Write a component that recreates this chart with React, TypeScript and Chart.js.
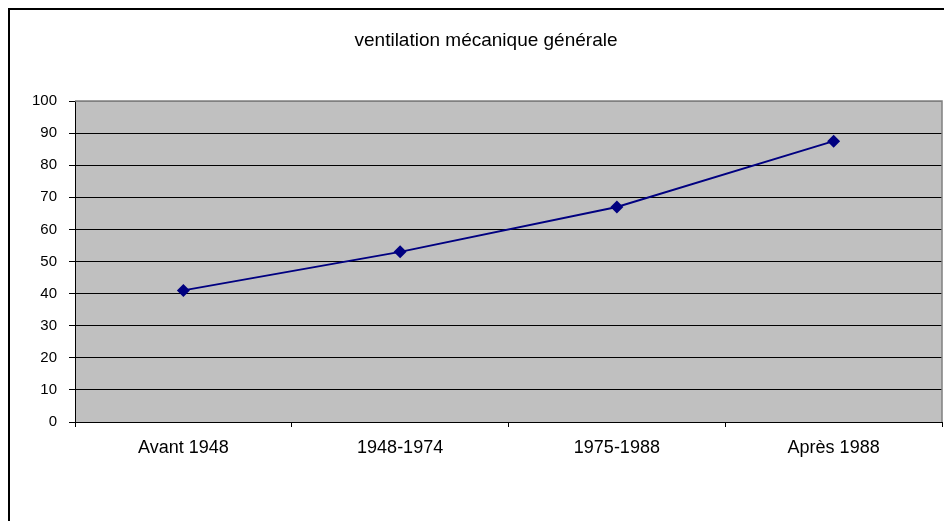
import React, { useEffect, useRef } from "react";
import { Chart, registerables } from "chart.js";

Chart.register(...registerables);

const TITLE = "ventilation mécanique générale";
const categories = ["Avant 1948", "1948-1974", "1975-1988", "Après 1988"];
const values = [41, 53, 67, 87.5];
const yMin = 0;
const yMax = 100;
const yStep = 10;

const FONT = "'Liberation Sans', Arial, Helvetica, sans-serif";

const framePlugin = {
  id: "frame",
  beforeDraw(chart: any) {
    const { ctx, chartArea } = chart;
    ctx.save();
    ctx.fillStyle = "#ffffff";
    ctx.fillRect(0, 0, chart.width, chart.height);
    ctx.strokeStyle = "#000000";
    ctx.lineWidth = 2;
    ctx.strokeRect(9, 9, chart.width + 20, chart.height + 20);
    ctx.fillStyle = "#C0C0C0";
    ctx.fillRect(chartArea.left, chartArea.top, chartArea.right - chartArea.left, chartArea.bottom - chartArea.top);
    ctx.restore();
  },
  afterDraw(chart: any) {
    const { ctx, chartArea } = chart;
    ctx.save();
    ctx.strokeStyle = "#808080";
    ctx.lineWidth = 1.5;
    ctx.beginPath();
    ctx.moveTo(chartArea.left, chartArea.top);
    ctx.lineTo(chartArea.right, chartArea.top);
    ctx.lineTo(chartArea.right, chartArea.bottom);
    ctx.stroke();
    ctx.fillStyle = "#000000";
    ctx.font = `19px ${FONT}`;
    ctx.textAlign = "center";
    ctx.textBaseline = "alphabetic";
    ctx.fillText(TITLE, 486, 46);
    ctx.restore();
  },
};

export default function App() {
  const ref = useRef<HTMLCanvasElement | null>(null);

  useEffect(() => {
    if (!ref.current) return;
    const chart = new Chart(ref.current, {
      type: "line",
      data: {
        labels: categories,
        datasets: [
          {
            data: values,
            borderColor: "#000080",
            backgroundColor: "#000080",
            borderWidth: 2,
            pointStyle: "rectRot",
            pointRadius: 6.5,
            pointBackgroundColor: "#000080",
            pointBorderColor: "#000080",
            pointBorderWidth: 0,
            tension: 0,
            fill: false,
          },
        ],
      },
      options: {
        animation: false,
        responsive: false,
        devicePixelRatio: 1,
        layout: { autoPadding: false, padding: { left: 10, right: 2, top: 101, bottom: 59 } },
        plugins: {
          legend: { display: false },
          title: { display: false },
          tooltip: { enabled: false },
        },
        scales: {
          x: {
            type: "category",
            offset: true,
            afterFit: (s: any) => {
              s.height = 40;
              s.paddingLeft = 0;
              s.paddingRight = 0;
            },
            grid: {
              offset: true,
              drawOnChartArea: false,
              drawTicks: true,
              tickLength: 5,
              color: "#000000",
              tickColor: "#000000",
            },
            border: { display: true, color: "#000000", width: 1 },
            ticks: {
              color: "#000000",
              font: { family: FONT, size: 18 },
              padding: 10,
              maxRotation: 0,
              autoSkip: false,
            },
          },
          y: {
            min: yMin,
            max: yMax,
            afterFit: (s: any) => {
              s.width = 65;
              s.paddingTop = 0;
              s.paddingBottom = 0;
            },
            grid: {
              color: (c: any) => (c.tick && c.tick.value === yMax ? "#808080" : "#000000"),
              tickColor: "#000000",
              tickLength: 6,
              lineWidth: 1,
            },
            border: { display: true, color: "#000000", width: 1 },
            ticks: {
              stepSize: yStep,
              color: "#000000",
              font: { family: FONT, size: 15 },
              padding: 12,
            },
          },
        },
      },
      plugins: [framePlugin],
    });
    return () => chart.destroy();
  }, []);

  return (
    <div style={{ position: "absolute", left: 0, top: 0, width: 944, height: 521 }}>
      <canvas ref={ref} width={944} height={521} style={{ display: "block", width: 944, height: 521 }} />
    </div>
  );
}
